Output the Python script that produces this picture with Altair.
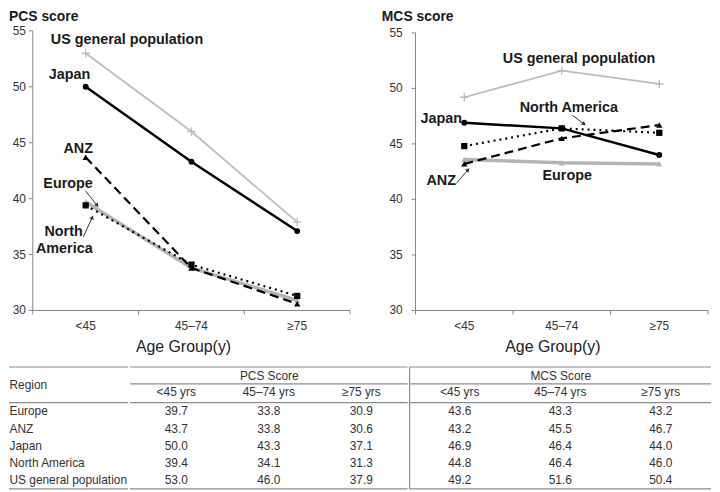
import math
import altair as alt
import pandas as pd

FONT = "Liberation Sans"
AXIS_C = "#868686"
TEXT_C = "#333333"
LINE_C = "#8c8c8c"

groups = ["<45", "45–74", "≥75"]
regions = ["Europe", "ANZ", "Japan", "North America", "US general population"]

pcs_europe = [39.7, 33.8, 30.9]
pcs_anz = [43.7, 33.8, 30.6]
pcs_japan = [50.0, 43.3, 37.1]
pcs_north_america = [39.4, 34.1, 31.3]
pcs_us_general = [53.0, 46.0, 37.9]

mcs_europe = [43.6, 43.3, 43.2]
mcs_anz = [43.2, 45.5, 46.7]
mcs_japan = [46.9, 46.4, 44.0]
mcs_north_america = [44.8, 46.4, 46.0]
mcs_us_general = [49.2, 51.6, 50.4]

table_columns = ["<45 yrs", "45–74 yrs", "≥75 yrs"]
y_ticks = [30, 35, 40, 45, 50, 55]
Y_MIN, Y_MAX = 30, 55

# annotation labels: (text, age-group position in index units, score)
pcs_labels = [
    ("US general population", -0.33, 54.2),
    ("Japan", -0.35, 51.05),
    ("ANZ", -0.21, 44.47),
    ("Europe", -0.40, 41.3),
    ("North", -0.39, 37.0),
    ("America", -0.47, 35.5),
]
mcs_labels = [
    ("US general population", 0.395, 52.68),
    ("North America", 0.568, 48.21),
    ("Japan", -0.449, 47.23),
    ("ANZ", -0.388, 41.70),
    ("Europe", 0.802, 42.14),
]
# arrows: (x start, score start, x end, score end)
pcs_arrows = [(-0.003, 40.70, 0.109, 39.39), (-0.022, 36.58, 0.0625, 38.33)]
mcs_arrows = [(-0.083, 41.43, 0.039, 42.68), (1.107, 47.59, 1.229, 46.79)]

pcs_series = [pcs_europe, pcs_anz, pcs_japan, pcs_north_america, pcs_us_general]
mcs_series = [mcs_europe, mcs_anz, mcs_japan, mcs_north_america, mcs_us_general]

rows = []
for reg, pv, mv in zip(regions, pcs_series, mcs_series):
    for gi, (g, col, p, m) in enumerate(zip(groups, table_columns, pv, mv)):
        rows.append({"region": reg, "group": g, "gi": gi, "col": col, "pcs": p, "mcs": m})
df = pd.DataFrame(rows)

PLUS = "M-1,0L1,0M0,-1L0,1"
styles = {
    "US general population": dict(color="#bcbcbc", width=1.8, dash=None, shape=PLUS, filled=False, size=70),
    "Europe": dict(color="#b4b4b4", width=3.5, dash=None, shape="triangle-up", filled=True, size=40),
    "ANZ": dict(color="#000000", width=2.2, dash=[9, 5], shape="triangle-up", filled=True, size=40),
    "North America": dict(color="#000000", width=2.2, dash=[2, 4], shape="square", filled=True, size=40),
    "Japan": dict(color="#000000", width=2.5, dash=None, shape="circle", filled=True, size=35),
}
draw_order = ["US general population", "Europe", "ANZ", "North America", "Japan"]

X_LO, X_HI = -0.5, len(groups) - 0.5


def panel(metric, title_text, width, height, top_pad, title_dx, title_dy, label_dx, axis_title_dx, labels, arrows):
    xs = alt.Scale(domain=[X_LO, X_HI], nice=False, zero=False)
    ys = alt.Scale(domain=[Y_MIN, Y_MAX], nice=False, zero=False, range=[height, top_pad])

    def X(f):
        return alt.X(f, scale=xs, axis=None)

    def Y(f):
        return alt.Y(f, scale=ys, axis=None)

    layers = []
    # axis lines
    ydom = pd.DataFrame({"ax": [X_LO], "ay": [Y_MIN], "ay2": [Y_MAX]})
    xdom = pd.DataFrame({"ax": [X_LO], "ax2": [X_HI], "ay": [Y_MIN]})
    layers.append(alt.Chart(ydom).mark_rule(color=AXIS_C, strokeWidth=1).encode(x=X("ax:Q"), y=Y("ay:Q"), y2="ay2:Q"))
    layers.append(alt.Chart(xdom).mark_rule(color=AXIS_C, strokeWidth=1).encode(x=X("ax:Q"), x2="ax2:Q", y=Y("ay:Q")))
    # y ticks + labels
    yt = pd.DataFrame({"ax": [X_LO] * len(y_ticks), "ay": y_ticks})
    layers.append(alt.Chart(yt).mark_rule(color=AXIS_C, strokeWidth=1, xOffset=-4, x2Offset=0).encode(
        x=X("ax:Q"), x2="ax:Q", y=Y("ay:Q")))
    layers.append(alt.Chart(yt).mark_text(align="right", baseline="middle", dx=label_dx, fontSize=12,
                                          font=FONT, color=TEXT_C).encode(
        x=X("ax:Q"), y=Y("ay:Q"), text=alt.Text("ay:Q", format="d")))
    # x ticks at band boundaries + labels at band centres
    xt = pd.DataFrame({"ax": [X_LO + i for i in range(len(groups) + 1)], "ay": Y_MIN})
    layers.append(alt.Chart(xt).mark_rule(color=AXIS_C, strokeWidth=1, yOffset=0, y2Offset=4).encode(
        x=X("ax:Q"), y=Y("ay:Q"), y2="ay:Q"))
    xl = pd.DataFrame({"ax": list(range(len(groups))), "ay": Y_MIN, "label": groups})
    layers.append(alt.Chart(xl).mark_text(align="center", baseline="middle", dy=16, fontSize=12,
                                          font=FONT, color=TEXT_C).encode(
        x=X("ax:Q"), y=Y("ay:Q"), text="label:N"))
    # axis title and panel title
    at = pd.DataFrame({"ax": [(X_LO + X_HI) / 2], "ay": [Y_MIN], "label": ["Age Group(y)"]})
    layers.append(alt.Chart(at).mark_text(align="center", baseline="middle", dx=axis_title_dx, dy=37,
                                          fontSize=16, font=FONT, color="#222222").encode(
        x=X("ax:Q"), y=Y("ay:Q"), text="label:N"))
    pt = pd.DataFrame({"ax": [X_LO], "ay": [Y_MAX], "label": [title_text]})
    layers.append(alt.Chart(pt).mark_text(align="left", baseline="middle", dx=title_dx, dy=title_dy,
                                          fontSize=14, fontWeight="bold", font=FONT, color="#1a1a1a").encode(
        x=X("ax:Q"), y=Y("ay:Q"), text="label:N"))

    # data series
    for name in draw_order:
        st = styles[name]
        base = alt.Chart(df).transform_filter(alt.datum.region == name)
        kw = dict(color=st["color"], strokeWidth=st["width"])
        if st["dash"]:
            kw["strokeDash"] = st["dash"]
        layers.append(base.mark_line(**kw).encode(x=X("gi:Q"), y=Y(f"{metric}:Q")))
        if st["filled"]:
            pm = base.mark_point(shape=st["shape"], filled=True, size=st["size"], color=st["color"], opacity=1)
        else:
            pm = base.mark_point(shape=st["shape"], filled=False, size=st["size"], color=st["color"],
                                 strokeWidth=1.4, opacity=1)
        layers.append(pm.encode(x=X("gi:Q"), y=Y(f"{metric}:Q")))

    # annotations
    lab_df = pd.DataFrame({"label": [l[0] for l in labels], "ax": [l[1] for l in labels],
                           "ay": [l[2] for l in labels]})
    layers.append(alt.Chart(lab_df).mark_text(
        align="left", baseline="middle", fontSize=14.5, fontWeight="bold", font=FONT, color="#1a1a1a"
    ).encode(x=X("ax:Q"), y=Y("ay:Q"), text="label:N"))

    ppu = (height - top_pad) / float(Y_MAX - Y_MIN)
    arr_rows = []
    for x1, y1, x2, y2 in arrows:
        dxp = (x2 - x1) * width / float(len(groups))
        dyp = -(y2 - y1) * ppu
        ang = math.degrees(math.atan2(dxp, -dyp)) % 360
        arr_rows.append({"ax": x1, "ay": y1, "ax2": x2, "ay2": y2, "ang": ang})
    arr_df = pd.DataFrame(arr_rows)
    layers.append(alt.Chart(arr_df).mark_rule(color="#333333", strokeWidth=1).encode(
        x=X("ax:Q"), x2="ax2:Q", y=Y("ay:Q"), y2="ay2:Q"))
    layers.append(alt.Chart(arr_df).mark_point(
        shape="triangle-up", filled=True, size=22, color="#333333", opacity=1
    ).encode(x=X("ax2:Q"), y=Y("ay2:Q"), angle=alt.Angle("ang:Q", scale=None)))

    return alt.layer(*layers).properties(width=width, height=height)


pcs_chart = panel("pcs", "PCS score", 320, 282, 0, -24, -14, -7, -8, pcs_labels, pcs_arrows)
mcs_chart = panel("mcs", "MCS score", 295, 282, 2, -34, -16, -13, -9, mcs_labels, mcs_arrows)

one = pd.DataFrame({"k": [0]})
TBL_H = 87
REGION_W = 96


def hrule(a, b, yv):
    return alt.Chart(one).mark_rule(color=LINE_C, strokeWidth=1.2).encode(
        x=alt.value(a), x2=alt.value(b), y=alt.value(yv))


def region_part():
    ys = alt.Scale(type="band", domain=regions, paddingInner=0, paddingOuter=0)
    y_axis = alt.Axis(
        title="Region", titleAngle=0, titleAlign="left", titleBaseline="middle",
        titleX=-24, titleY=-18, titleFontSize=12, titleFontWeight="normal", titleColor=TEXT_C,
        labelAlign="left", labelPadding=24, labelFontSize=12, labelColor=TEXT_C,
        ticks=False, tickSize=0, domain=False, grid=False,
    )
    marks = alt.Chart(df).mark_point(opacity=0, size=1).encode(
        y=alt.Y("region:N", sort=regions, scale=ys, bandPosition=0.5, axis=y_axis))
    layers = [marks, hrule(-24, REGION_W, -36), hrule(-24, REGION_W, 0), hrule(-24, REGION_W, TBL_H)]
    return alt.layer(*layers).properties(width=REGION_W, height=TBL_H)


def table_part(metric, header, width, divider):
    xs = alt.Scale(type="band", domain=table_columns, paddingInner=0, paddingOuter=0)
    ys = alt.Scale(type="band", domain=regions, paddingInner=0, paddingOuter=0)
    x_enc = alt.X("col:N", sort=table_columns, scale=xs, bandPosition=0.5, axis=alt.Axis(
        orient="top", title=header, titleY=-27, titleBaseline="middle", titleFontSize=12,
        titleFontWeight="normal", titleColor=TEXT_C, labelAngle=0, labelFontSize=12,
        labelColor=TEXT_C, labelPadding=4, domain=False, ticks=False, tickSize=0, grid=False,
    ))
    y_enc = alt.Y("region:N", sort=regions, scale=ys, bandPosition=0.5, axis=None)
    text = alt.Chart(df).mark_text(fontSize=12, font=FONT, color=TEXT_C).encode(
        x=x_enc, y=y_enc, text=alt.Text(f"{metric}:Q", format=".1f"))
    layers = [text]
    for yv in [-36, -19, 0, TBL_H]:
        layers.append(hrule(0, width, yv))
    if divider:
        layers.append(alt.Chart(one).mark_rule(color=LINE_C, strokeWidth=1.2).encode(
            x=alt.value(0), y=alt.value(-36), y2=alt.value(TBL_H)))
    return alt.layer(*layers).properties(width=width, height=TBL_H)


table_r = region_part()
table_p = table_part("pcs", "PCS Score", 280, False)
table_m = table_part("mcs", "MCS Score", 304, True)

chart = alt.vconcat(
    alt.hconcat(pcs_chart, mcs_chart, spacing=31),
    alt.hconcat(table_r, table_p, table_m, spacing=0),
    spacing=11,
).properties(padding=0).configure_view(stroke=None).configure_axis(
    labelFont=FONT, titleFont=FONT
).configure_text(font=FONT)

chart.save("out.html", embed_options={"renderer": "svg", "actions": False})
